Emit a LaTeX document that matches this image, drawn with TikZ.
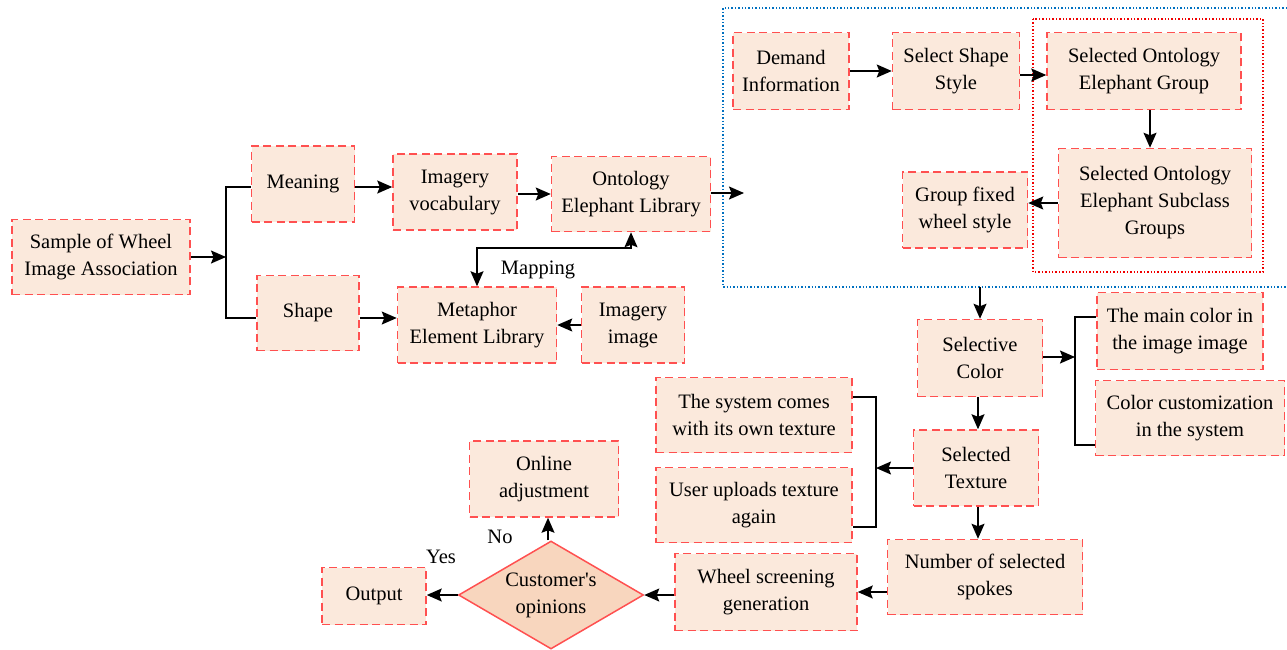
\documentclass[tikz,border=0pt]{standalone}
\usepackage{fontspec}
\setmainfont{Liberation Serif}
\usetikzlibrary{arrows.meta,shapes.geometric}
\definecolor{boxfill}{RGB}{251,233,220}
\definecolor{boxline}{RGB}{255,80,80}
\definecolor{diafill}{RGB}{248,214,190}
\definecolor{groupblue}{RGB}{0,112,192}
\definecolor{groupred}{RGB}{240,0,0}
\tikzset{
  stepbox/.style={draw=boxline, fill=boxfill, line width=1.5pt,
    dash pattern=on 8pt off 4.5pt, align=center, inner sep=0pt,
    font=\fontsize{20.5}{27}\selectfont},
  decide/.style={diamond, draw=boxline, fill=diafill, line width=1.5pt,
    align=center, inner sep=0pt, aspect=1.71,
    font=\fontsize{20.5}{27}\selectfont},
  lbl/.style={font=\fontsize{20.5}{27}\selectfont, inner sep=0pt},
  tip/.tip={Stealth[length=15pt,width=13pt,inset=2.5pt]},
  arr/.style={line width=1.5pt, -tip},
  twoarr/.style={line width=1.5pt, tip-tip},
  plain/.style={line width=1.5pt},
}
\newcommand{\bx}[6]{\node[stepbox, minimum width=#4pt, minimum height=#5pt] (#1) at (#2,#3) {#6};}
\begin{document}
\begin{tikzpicture}[x=1pt,y=-1pt]
\useasboundingbox (0,0) rectangle (1287,649);

% group frames
\draw[groupblue, line width=1.4pt, dotted] (1287,8) -- (723,8) -- (723,287) -- (1287,287);
\draw[groupred, line width=1.4pt, dotted] (1033,19) rectangle (1263,272);

% left part
\bx{sample}{101}{257}{178}{75}{Sample of Wheel\\Image Association}
\bx{meaning}{303}{184}{103}{76}{Meaning}
\bx{shape}{308}{313}{102}{75}{Shape}
\bx{vocab}{455}{192}{124}{76}{Imagery\\vocabulary}
\bx{onto}{631}{194}{159}{75}{Ontology\\Elephant Library}
\bx{meta}{477}{325}{159}{76}{Metaphor\\Element Library}
\bx{imimg}{633}{325}{103}{76}{Imagery\\image}

% shape selection group
\bx{demand}{791}{71}{116}{77}{Demand\\Information}
\bx{selshape}{956}{71}{127}{77}{Select Shape\\Style}
\bx{selgroup}{1144}{71}{194}{77}{Selected Ontology\\Elephant Group}
\bx{subgroup}{1155}{203}{193}{109}{Selected Ontology\\Elephant Subclass\\Groups}
\bx{fixed}{965}{210}{125}{76}{Group fixed\\wheel style}

% colour and texture
\bx{color}{980}{358}{125}{77}{Selective\\Color}
\bx{maincol}{1180}{331}{166}{77}{The main color in\\the image image}
\bx{custcol}{1190}{418}{189}{75}{Color customization\\in the system}
\bx{texture}{976}{468}{125}{76}{Selected\\Texture}
\bx{systex}{754}{415}{196}{75}{The system comes\\with its own texture}
\bx{uptex}{754}{505}{196}{75}{User uploads texture\\again}
\bx{spokes}{985}{577}{195}{75}{Number of selected\\spokes}
\bx{wheelgen}{766}{592}{182}{77}{Wheel screening\\generation}

% decision
\node[decide, minimum width=185pt, minimum height=108pt] (opinion) at (551,595) {Customer\textquotesingle s\\opinions};
\bx{output}{374}{596}{104}{57}{Output}
\bx{online}{544}{479}{149}{76}{Online\\adjustment}

\node[lbl] (yes) at (441,557) {Yes};
\node[lbl] (no) at (500,537) {No};
\node[lbl] (mapping) at (538,270) {Mapping};

% bracket after the sample
\coordinate (brA) at (226,257);
\draw[arr] (sample.east) -- (brA);
\draw[plain] (meaning.west |- 0,187) -| (226,318) -- (shape.west |- 0,318);

\draw[arr] (meaning.east |- 0,187) -- (vocab.west |- 0,187);
\draw[arr] (vocab.east |- 0,194) -- (onto.west |- 0,194);
\coordinate (ontoOut) at (744,193);
\draw[arr] (onto.east |- 0,193) -- (ontoOut);
\draw[arr] (shape.east |- 0,318) -- (meta.west |- 0,318);
\draw[arr] (imimg.west) -- (meta.east |- imimg.west);
\coordinate (mapBend) at (631,248);
\draw[twoarr] (onto.south) -- (mapBend) -| (meta.north);

% shape selection flow
\draw[arr] (demand.east) -- (selshape.west);
\draw[arr] (selshape.east |- 0,75) -- (selgroup.west |- 0,75);
\draw[arr] (selgroup.south -| 1150,0) -- (subgroup.north -| 1150,0);
\draw[arr] (subgroup.west) -- (fixed.east |- subgroup.west);

% down to colour selection
\coordinate (groupOut) at (980,287);
\draw[arr] (groupOut) -- (color.north);
\coordinate (brC) at (1075,357);
\draw[arr] (color.east |- brC) -- (brC);
\draw[plain] (maincol.west |- 0,317) -| (1075,445) -- (custcol.west |- 0,445);

\draw[arr] (color.south -| 978,0) -- (texture.north -| 978,0);
\coordinate (brT) at (876,468);
\draw[plain] (systex.east |- 0,397) -| (876,527) -- (uptex.east |- 0,527);
\draw[arr] (texture.west) -- (brT);
\draw[arr] (texture.south -| 978,0) -- (spokes.north -| 978,0);
\draw[arr] (spokes.west |- 0,592) -- (wheelgen.east |- 0,592);
\draw[arr] (wheelgen.west |- opinion.east) -- (opinion.east);
\draw[arr] (opinion.west) -- (output.east |- opinion.west);
\draw[arr] (opinion.north -| 548,0) -- (online.south -| 548,0);
\end{tikzpicture}
\end{document}
